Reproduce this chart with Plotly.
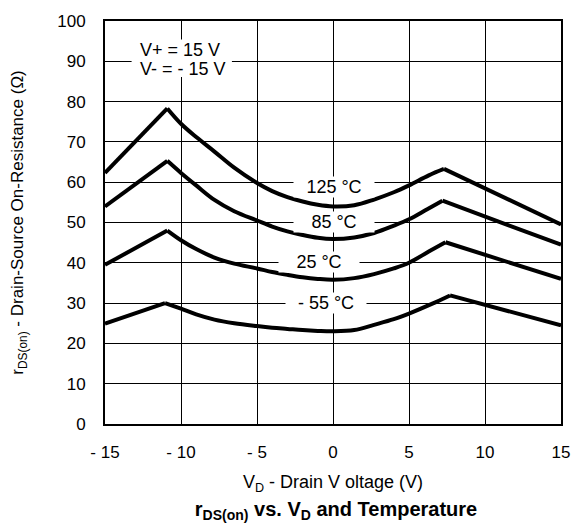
import plotly.graph_objects as go

# ---- data ----
x_tick_vals = [-15, -10, -5, 0, 5, 10, 15]
x_tick_text = ["- 15", "- 10", "- 5", "0", "5", "10", "15"]
y_tick_vals = [0, 10, 20, 30, 40, 50, 60, 70, 80, 90, 100]

# each curve: straight rise to first peak, smooth valley, second peak, straight fall
vd_125 = [-15, -10.9, -10, -9, -7.8, -6.5, -5, -4, -3, -2, -1, 0, 1.4, 2.7, 4, 5, 6.3, 7.3, 15]
r_125 = [62.3, 78.3, 74.5, 71.2, 67.6, 63.6, 59.8, 57.8, 56.3, 55.2, 54.4, 54.0, 54.3, 55.7, 57.5, 59.2, 61.7, 63.3, 49.5]

vd_85 = [-15, -10.9, -10, -9, -7.8, -6.5, -5, -4, -3, -2, -1, 0, 1.4, 2.7, 4, 5, 6.2, 7.2, 15]
r_85 = [54.0, 65.3, 62.3, 59.2, 55.6, 52.8, 50.5, 49.0, 47.8, 46.9, 46.2, 45.9, 46.3, 47.4, 49.2, 50.8, 53.3, 55.4, 44.5]

vd_25 = [-15, -10.9, -10, -9, -7.8, -6.5, -5, -4, -3, -2, -1, 0, 1.4, 2.7, 4, 5, 6.3, 7.4, 15]
r_25 = [39.5, 48.0, 45.6, 43.4, 41.3, 39.8, 38.6, 37.7, 37.0, 36.4, 36.0, 35.8, 36.2, 37.2, 38.6, 40.0, 42.8, 45.1, 36.0]

vd_m55 = [-15, -11.05, -10, -9, -7.8, -6.5, -5, -4, -3, -2, -1, 0, 1.4, 2.7, 4, 5, 6.5, 7.7, 15]
r_m55 = [24.9, 30.0, 28.6, 27.2, 25.9, 25.0, 24.3, 23.9, 23.6, 23.3, 23.1, 23.0, 23.3, 24.6, 26.0, 27.4, 29.8, 31.9, 24.5]

series = [
    ("125 °C", vd_125, r_125),
    ("85 °C", vd_85, r_85),
    ("25 °C", vd_25, r_25),
    ("- 55 °C", vd_m55, r_m55),
]

FONT = "Liberation Sans, Arial, Helvetica, sans-serif"
LINE = dict(color="black", width=4)

fig = go.Figure()
for name, xs, ys in series:
    # straight rise (first point to first peak)
    fig.add_trace(go.Scatter(x=xs[:2], y=ys[:2], mode="lines", line=LINE,
                             showlegend=False, hoverinfo="skip"))
    # smooth valley between the peaks
    fig.add_trace(go.Scatter(x=xs[1:-1], y=ys[1:-1], mode="lines",
                             line=dict(LINE, shape="spline", smoothing=1.0),
                             name=name, showlegend=False, hoverinfo="skip"))
    # straight fall (second peak to last point)
    fig.add_trace(go.Scatter(x=xs[-2:], y=ys[-2:], mode="lines", line=LINE,
                             showlegend=False, hoverinfo="skip"))

# curve labels (white boxes interrupt the grid lines)
label_pos = [("125 °C", 0.05, 58.7), ("85 °C", 0.05, 50.1), ("25 °C", -0.9, 40.1), ("- 55 °C", -0.45, 30.0)]
for text, x, y in label_pos:
    fig.add_annotation(x=x, y=y, xref="x", yref="y", text=text, showarrow=False,
                       bgcolor="white", width=80, borderpad=0,
                       font=dict(family=FONT, size=18, color="black"))

# supply voltage note
fig.add_shape(type="rect", xref="x", yref="y", x0=-13.25, x1=-6.65, y0=86.1, y1=95.4,
              fillcolor="white", line=dict(width=0), layer="between")
fig.add_annotation(x=-12.8, y=92.9, xref="x", yref="y", text="V+ = 15 V", showarrow=False,
                   xanchor="left", yanchor="middle", font=dict(family=FONT, size=18, color="black"))
fig.add_annotation(x=-12.8, y=88.0, xref="x", yref="y", text="V- = - 15 V", showarrow=False,
                   xanchor="left", yanchor="middle", font=dict(family=FONT, size=18, color="black"))

fig.update_xaxes(range=[-15, 15], tickvals=x_tick_vals, ticktext=x_tick_text,
                 showgrid=True, gridcolor="black", gridwidth=1,
                 showline=True, linecolor="black", linewidth=2, mirror=True,
                 ticks="outside", ticklen=12, tickcolor="rgba(0,0,0,0)",
                 zeroline=False,
                 tickfont=dict(family=FONT, size=17, color="black"),
                 title=dict(text="V<sub>D</sub> - Drain V oltage (V)", standoff=14,
                            font=dict(family=FONT, size=18, color="black")))
fig.update_yaxes(range=[0, 100], tickvals=y_tick_vals,
                 showgrid=True, gridcolor="black", gridwidth=1,
                 showline=True, linecolor="black", linewidth=2, mirror=True,
                 ticks="outside", ticklen=14, tickcolor="rgba(0,0,0,0)",
                 zeroline=False,
                 tickfont=dict(family=FONT, size=17, color="black"),
                 title=dict(text="r<sub>DS(on)</sub> - Drain-Source On-Resistance (Ω)", standoff=29,
                            font=dict(family=FONT, size=17, color="black")))

fig.update_layout(
    width=582, height=523,
    margin=dict(l=105, r=16, t=13, b=99),
    paper_bgcolor="white", plot_bgcolor="white",
    title=dict(text="<b>r<sub>DS(on)</sub> vs. V<sub>D</sub> and Temperature</b>",
               x=(105 + 231) / 582, xanchor="center", xref="container",
               y=1 - 509 / 523, yanchor="middle", yref="container",
               font=dict(family=FONT, size=20, color="black")),
)

fig.write_html("out.html", config={"displayModeBar": False},
               post_script="document.body.style.margin='0';document.body.style.overflow='hidden';")
